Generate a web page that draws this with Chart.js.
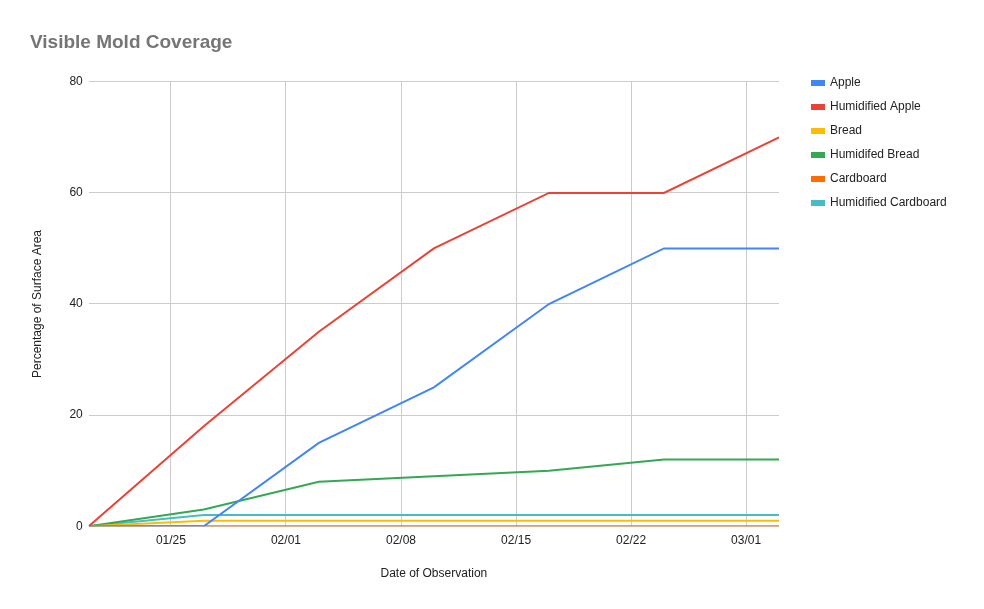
<!DOCTYPE html>
<html>
<head>
<meta charset="utf-8">
<script src="https://cdn.jsdelivr.net/npm/chart.js@4"></script>
<style>
  html, body { margin: 0; padding: 0; background: #fff; }
  #wrap { width: 984px; height: 609px; }
</style>
</head>
<body>
<div id="wrap"><canvas id="myChart" width="984" height="609"></canvas></div>
<script>
// observation dates (mm/dd)
const obsDates = ['01/20', '01/27', '02/03', '02/10', '02/17', '02/24', '03/03'];
const tickDates = ['01/25', '02/01', '02/08', '02/15', '02/22', '03/01'];

const apple = [0, 0, 15, 25, 40, 50, 50];
const humidApple = [0, 18, 35, 50, 60, 60, 70];
const bread = [0, 1, 1, 1, 1, 1, 1];
const humidBread = [0, 3, 8, 9, 10, 12, 12];
const cardboard = [0, 0, 0, 0, 0, 0, 0];
const humidCardboard = [0, 2, 2, 2, 2, 2, 2];

const yTicks = [0, 20, 40, 60, 80];

// days since first observation
function dayNum(s) {
  const [m, d] = s.split('/').map(Number);
  return (Date.UTC(2021, m - 1, d) - Date.UTC(2021, 0, 20)) / 86400000;
}
const xs = obsDates.map(dayNum);
const toPts = arr => arr.map((v, i) => ({ x: xs[i], y: v }));

function ds(label, values, color) {
  return {
    label: label,
    data: toPts(values),
    borderColor: color,
    backgroundColor: color,
    borderWidth: 2,
    pointRadius: 0,
    tension: 0
  };
}

const data = {
  datasets: [
    ds('Apple', apple, '#4285f4'),
    ds('Humidified Apple', humidApple, '#ea4335'),
    ds('Bread', bread, '#fbbc04'),
    ds('Humidifed Bread', humidBread, '#34a853'),
    ds('Cardboard', cardboard, '#ff6d01'),
    ds('Humidified Cardboard', humidCardboard, '#46bdc6')
  ]
};

const font = { family: 'Arial, "Liberation Sans", sans-serif', size: 12 };

const config = {
  type: 'line',
  data: data,
  options: {
    responsive: false,
    animation: false,
    layout: { padding: { left: 30, right: 30, top: 0, bottom: 24 } },
    scales: {
      x: {
        type: 'linear',
        min: 0,
        max: dayNum('03/03'),
        afterBuildTicks: axis => {
          axis.ticks = tickDates.map(t => ({ value: dayNum(t) }));
        },
        ticks: {
          font: font,
          color: '#222',
          maxRotation: 0,
          padding: 7,
          callback: v => tickDates[tickDates.map(dayNum).indexOf(v)]
        },
        grid: { color: '#cccccc', drawTicks: false },
        border: { display: false },
        title: { display: true, text: 'Date of Observation', font: font, color: '#222', padding: { top: 12 } }
      },
      y: {
        min: 0,
        max: 80,
        afterBuildTicks: axis => {
          axis.ticks = yTicks.map(v => ({ value: v }));
        },
        ticks: { font: font, color: '#222', padding: 6 },
        grid: { color: '#cccccc', drawTicks: false },
        border: { display: false },
        title: { display: true, text: 'Percentage of Surface Area', font: font, color: '#222', padding: { top: 0, bottom: 19 } }
      },
      // spacer between plot and legend
      gap: {
        position: 'right',
        display: true,
        grid: { display: false },
        border: { display: false },
        ticks: { display: false },
        afterFit: axis => { axis.width = 21; }
      }
    },
    plugins: {
      title: {
        display: true,
        text: 'Visible Mold Coverage',
        align: 'start',
        color: '#757575',
        font: { family: 'Arial, "Liberation Sans", sans-serif', size: 19, weight: 'bold' },
        padding: { top: 31, bottom: 28 }
      },
      legend: {
        position: 'right',
        align: 'start',
        title: { display: true, text: ' ', font: { size: 10, lineHeight: 1 }, padding: { top: 55, bottom: 0 } },
        labels: {
          boxWidth: 12,
          boxHeight: 4,
          padding: 12,
          color: '#222',
          font: font
        }
      },
      tooltip: { enabled: false }
    }
  }
};

const myChart = new Chart(document.getElementById('myChart'), config);
</script>
</body>
</html>
